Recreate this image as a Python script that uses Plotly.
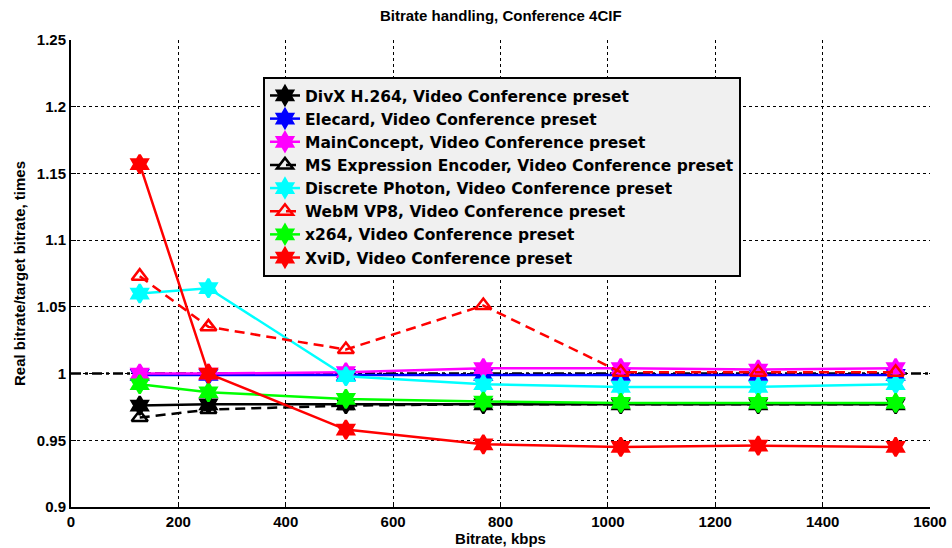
import plotly.graph_objects as go

bitrates = [128, 256, 512, 768, 1024, 1280, 1536]

divx = [0.976, 0.977, 0.977, 0.977, 0.977, 0.977, 0.977]
elecard = [0.999, 0.999, 0.999, 0.999, 0.999, 0.999, 0.999]
mainconcept = [1.000, 1.000, 1.001, 1.004, 1.004, 1.003, 1.004]
ms_expression = [0.967, 0.973, 0.976, 0.977, 0.977, 0.977, 0.977]
discrete_photon = [1.060, 1.064, 0.998, 0.992, 0.990, 0.990, 0.992]
webm_vp8 = [1.073, 1.035, 1.018, 1.051, 1.001, 1.001, 1.001]
x264 = [0.992, 0.986, 0.981, 0.979, 0.978, 0.978, 0.978]
xvid = [1.157, 1.000, 0.958, 0.947, 0.945, 0.946, 0.945]

ref_x = [0, 1600]
ref_y = [1.0, 1.0]

x_tickvals = [0, 200, 400, 600, 800, 1000, 1200, 1400, 1600]
x_ticktext = ["0", "200", "400", "600", "800", "1000", "1200", "1400", "1600"]
y_tickvals = [0.9, 0.95, 1.0, 1.05, 1.1, 1.15, 1.2, 1.25]
y_ticktext = ["0.9", "0.95", "1", "1.05", "1.1", "1.15", "1.2", "1.25"]

series = [
    ("DivX H.264, Video Conference preset", divx, "#000000", "solid", "hexagram"),
    ("Elecard, Video Conference preset", elecard, "#0000ff", "solid", "hexagram"),
    ("MainConcept, Video Conference preset", mainconcept, "#ff00ff", "solid", "hexagram"),
    ("MS Expression Encoder, Video Conference preset", ms_expression, "#000000", "10px,6px", "triangle-up-open"),
    ("Discrete Photon, Video Conference preset", discrete_photon, "#00ffff", "solid", "hexagram"),
    ("WebM VP8, Video Conference preset", webm_vp8, "#ff0000", "10px,6px", "triangle-up-open"),
    ("x264, Video Conference preset", x264, "#00ff00", "solid", "hexagram"),
    ("XviD, Video Conference preset", xvid, "#ff0000", "solid", "hexagram"),
]

fig = go.Figure()
fig.add_trace(go.Scatter(x=ref_x, y=ref_y, mode="lines", showlegend=False,
                         line=dict(color="black", width=2.5, dash="10px,4px,3px,4px"),
                         hoverinfo="skip"))
for name, vals, color, dash, sym in series:
    fig.add_trace(go.Scatter(
        x=bitrates, y=vals, name=name, mode="lines+markers",
        line=dict(color=color, width=2.5, dash=dash),
        marker=dict(symbol=sym, size=14, color=color,
                    line=dict(color=color, width=2.5)),
    ))

base = "Liberation Sans, Arial"
fig.update_layout(
    width=952, height=548,
    margin=dict(l=71, r=22, t=40, b=41),
    paper_bgcolor="white", plot_bgcolor="white",
    title=dict(text="<b>Bitrate handling, Conference 4CIF</b>", x=0.526, xanchor="center",
               y=0.98, yanchor="top", font=dict(family=base, size=15, color="black")),
    font=dict(family=base, size=14, color="black"),
    showlegend=True,
    legend=dict(x=0.2235, y=0.921, xanchor="left", yanchor="top",
                bgcolor="#f0f0f0", bordercolor="black", borderwidth=2,
                font=dict(family="DejaVu Sans", size=15.5, color="black", weight="bold"),
                tracegroupgap=0, itemwidth=30),
)
fig.update_xaxes(range=[0, 1600], automargin=False,
                 tickvals=x_tickvals, ticktext=["<b>%s</b>" % t for t in x_ticktext],
                 showgrid=True, gridcolor="black", griddash="dot", gridwidth=1,
                 showline=True, linecolor="black", linewidth=2,
                 ticks="inside", ticklen=5, tickcolor="black",
                 tickfont=dict(family=base, size=15),
                 title=dict(text="<b>Bitrate, kbps</b>", standoff=4,
                            font=dict(family=base, size=15)),
                 zeroline=False)
fig.update_yaxes(range=[0.9, 1.25], automargin=False,
                 tickvals=y_tickvals, ticktext=["<b>%s</b>" % t for t in y_ticktext],
                 showgrid=True, gridcolor="black", griddash="dot", gridwidth=1,
                 showline=True, linecolor="black", linewidth=2,
                 ticks="inside", ticklen=5, tickcolor="black",
                 tickfont=dict(family=base, size=15),
                 title=dict(text="<b>Real bitrate/target bitrate, times</b>", standoff=8,
                            font=dict(family=base, size=15)),
                 zeroline=False)

fig.write_html("out.html")
